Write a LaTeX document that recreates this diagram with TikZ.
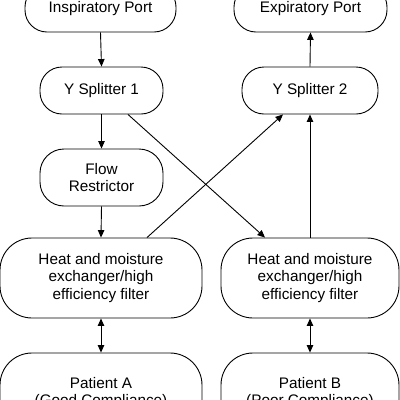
\documentclass[tikz,border=0pt]{standalone}
\usepackage{fontspec}
\setmainfont{Liberation Sans}
\usetikzlibrary{arrows.meta,calc}
\begin{document}
\begin{tikzpicture}[x=1pt,y=1pt,
  box/.style={draw,line width=0.9pt,inner sep=0pt,align=center,
    font=\fontsize{15.3}{17.6}\selectfont},
  sbox/.style={box,rounded corners=22pt,minimum height=47pt},
  bbox/.style={box,rounded corners=32pt,minimum height=80pt},
  arr/.style={line width=0.9pt,-{Triangle[length=7.5pt,width=6.5pt]}},
  darr/.style={line width=0.9pt,{Triangle[length=7.5pt,width=6.5pt]}-{Triangle[length=7.5pt,width=6.5pt]}}]
\useasboundingbox (0,0) rectangle (400,-400);
\node[sbox,minimum width=151pt] (insp) at (100.5,-8.5) {Inspiratory Port};
\node[sbox,minimum width=153pt] (exp) at (310.5,-8.5) {Expiratory Port};
\node[sbox,minimum width=123pt] (y1) at (101.5,-90.5) {Y Splitter 1};
\node[sbox,minimum width=136pt] (y2) at (310,-90.5) {Y Splitter 2};
\node[sbox,minimum width=123pt,minimum height=57pt,rounded corners=24pt] (flow) at (101.5,-177.5) {Flow\\Restrictor};
\node[bbox,minimum width=202pt] (heatL) at (101,-278) {Heat and moisture\\exchanger/high\\efficiency filter};
\node[bbox,minimum width=178pt] (heatR) at (310,-278) {Heat and moisture\\exchanger/high\\efficiency filter};
\node[bbox,minimum width=202pt] (patA) at (101,-393) {Patient A\\(Good Compliance)};
\node[bbox,minimum width=178pt] (patB) at (310,-393) {Patient B\\(Poor Compliance)};
\draw[arr] (insp.south) -- (y1.north);
\draw[arr] (y2.north) -- (exp.south);
\draw[arr] (y1.south) -- (flow.north);
\draw[arr] (flow.south) -- (heatL.north);
\draw[arr] (heatR.north) -- (y2.south);
\draw[arr] ([xshift=26.5pt]y1.south) -- ([xshift=-45pt]heatR.north);
\draw[arr] ([xshift=46pt]heatL.north) -- ([xshift=-27pt]y2.south);
\draw[darr] (heatL.south) -- (patA.north);
\draw[darr] (heatR.south) -- (patB.north);
\end{tikzpicture}
\end{document}
